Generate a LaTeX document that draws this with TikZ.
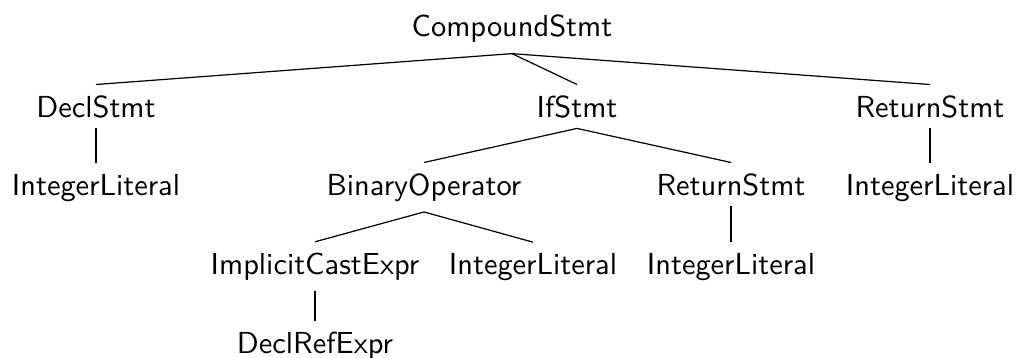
\documentclass[tikz,border=0pt]{standalone}
\usepackage{tikz}
\usetikzlibrary{calc}

\tikzset{
    ast/.style={font=\sffamily, anchor=base},
    branch/.style={line width=.4pt}
}

\begin{document}
\begin{tikzpicture}[x=0.329pt, y=-0.329pt]
        \useasboundingbox (0,0) rectangle (1016,358);
        \node[ast] (root) at (512,37) {CompoundStmt};
        \node[ast] (decl) at (96,117) {DeclStmt};
        \node[ast] (ifs) at (577,117) {IfStmt};
        \node[ast] (retR) at (930,117) {ReturnStmt};
        \node[ast] (intL) at (96,195) {IntegerLiteral};
        \node[ast] (binop) at (424,195) {BinaryOperator};
        \node[ast] (retM) at (731,195) {ReturnStmt};
        \node[ast] (intR) at (930,195) {IntegerLiteral};
        \node[ast] (cast) at (315,274) {ImplicitCastExpr};
        \node[ast] (intM) at (533,274) {IntegerLiteral};
        \node[ast] (intRM) at (731,274) {IntegerLiteral};
        \node[ast] (declref) at (315,353) {DeclRefExpr};
        \draw[branch] (root.south)--(decl.north);
        \draw[branch] (root.south)--(ifs.north);
        \draw[branch] (root.south)--(retR.north);
        \draw[branch] (decl.south)--(intL.north);
        \draw[branch] (ifs.south)--(binop.north);
        \draw[branch] (ifs.south)--(retM.north);
        \draw[branch] (retR.south)--(intR.north);
        \draw[branch] (binop.south)--(cast.north);
        \draw[branch] (binop.south)--(intM.north);
        \draw[branch] (retM.south)--(intRM.north);
        \draw[branch] (cast.south)--(declref.north);
\end{tikzpicture}
\end{document}
